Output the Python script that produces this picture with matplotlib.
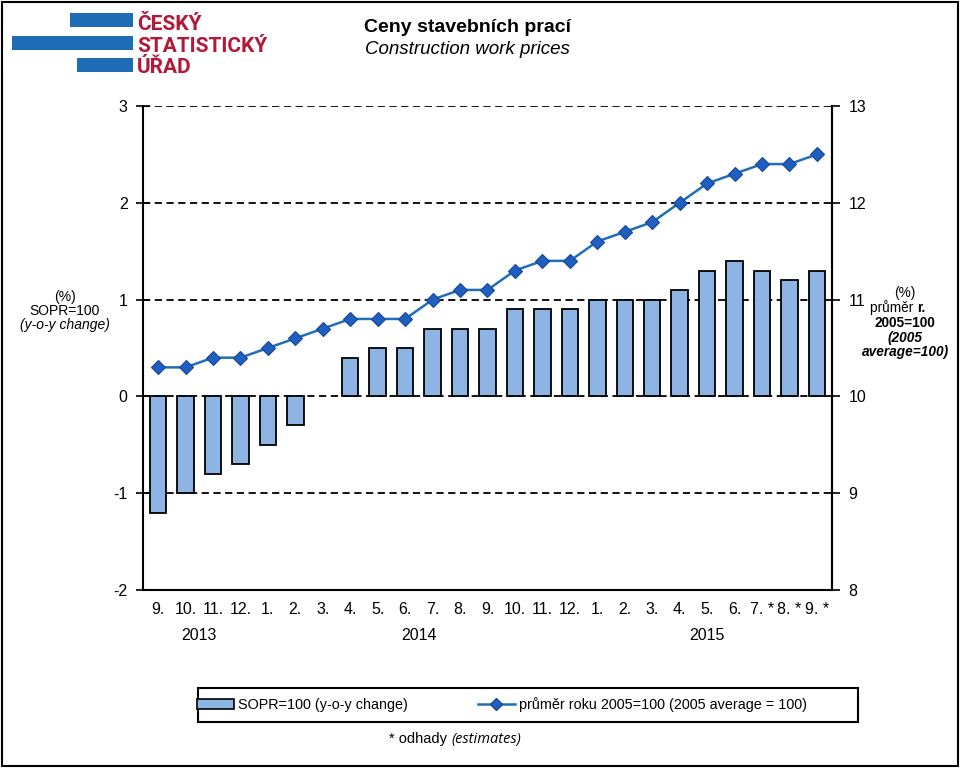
import matplotlib
matplotlib.use("Agg")
import matplotlib.pyplot as plt
import matplotlib.transforms as mtransforms
from matplotlib.patches import Rectangle
from matplotlib.lines import Line2D
from matplotlib.patches import Patch

plt.rcParams['font.family'] = ['Liberation Sans', 'DejaVu Sans']

# ---- data ----
months = ["9.", "10.", "11.", "12.", "1.", "2.", "3.", "4.", "5.", "6.", "7.", "8.",
          "9.", "10.", "11.", "12.", "1.", "2.", "3.", "4.", "5.", "6.", "7. *", "8. *", "9. *"]
years = ["2013", "2014", "2015"]
year_pos = [1.5, 9.5, 20.0]
sopr_yoy = [-1.2, -1.0, -0.8, -0.7, -0.5, -0.3, 0.0, 0.4, 0.5, 0.5, 0.7, 0.7,
            0.7, 0.9, 0.9, 0.9, 1.0, 1.0, 1.0, 1.1, 1.3, 1.4, 1.3, 1.2, 1.3]
avg2005 = [10.3, 10.3, 10.4, 10.4, 10.5, 10.6, 10.7, 10.8, 10.8, 10.8, 11.0, 11.1,
           11.1, 11.3, 11.4, 11.4, 11.6, 11.7, 11.8, 12.0, 12.2, 12.3, 12.4, 12.4, 12.5]
left_ticks = [-2, -1, 0, 1, 2, 3]
right_ticks = [8, 9, 10, 11, 12, 13]

W, H = 960, 770
fig = plt.figure(figsize=(W / 100, H / 100), dpi=100)

def fx(px):
    return px / W

def fy(py):
    return 1 - py / H

# outer frame
fig.patches.append(Rectangle((fx(2), fy(766)), fx(956), (764) / H, transform=fig.transFigure,
                             fill=False, edgecolor='black', linewidth=1.5))

# logo
blue = '#1e6cb6'
red = '#b1183a'
for x0, x1, y0, y1 in [(70, 133, 13, 27), (12, 133, 36, 50), (77, 133, 58, 72)]:
    fig.patches.append(Rectangle((fx(x0), fy(y1)), fx(x1 - x0), (y1 - y0) / H,
                                 transform=fig.transFigure, facecolor=blue, edgecolor='none'))
for txt, yb in [("ČESKÝ", 30), ("STATISTICKÝ", 52), ("ÚŘAD", 73)]:
    fig.text(fx(137), fy(yb), txt, color=red, fontsize=15, fontweight='bold',
             family=['Roboto', 'Liberation Sans'], ha='left', va='baseline')

fig.text(fx(467), fy(27), "Ceny stavebních prací", fontsize=14, fontweight='bold',
         ha='center', va='center')
fig.text(fx(467), fy(50), "Construction work prices", fontsize=13.5, style='italic',
         ha='center', va='center')

# axes
ax = fig.add_axes([fx(143), fy(590), fx(832 - 143), (590 - 106) / H])
x = list(range(len(months)))
bars = ax.bar(x, sopr_yoy, width=0.6, color='#8db4e3', edgecolor='black', linewidth=1.3,
              zorder=2)
for b, v in zip(bars, sopr_yoy):
    if v == 0:
        b.set_linewidth(0)
ax.set_xlim(-0.55, len(months) - 0.45)
ax.set_ylim(-2, 3)
ax.set_yticks(left_ticks)
ax.set_yticklabels([str(t) for t in left_ticks], fontsize=11.5)
for t in left_ticks[1:]:
    ax.axhline(t, color='black', linestyle=(0, (4, 2.5)), linewidth=1.3, zorder=1)
ax.set_xticks(x)
ax.set_xticklabels(months, fontsize=11.5)
ax.tick_params(axis='x', length=0, pad=9)
ax.tick_params(axis='y', direction='inout', length=10, width=1.2, pad=6)
ax.spines['top'].set_visible(False)
for s in ['left', 'bottom', 'right']:
    ax.spines[s].set_linewidth(1.5)

ax2 = ax.twinx()
ax2.plot(x, avg2005, color='#1f6fb8', linewidth=1.8, marker='D', markersize=7,
         markerfacecolor='#1f5fbf', markeredgecolor='#17479a', markeredgewidth=0.8, zorder=3)
ax2.set_ylim(8, 13)
ax2.set_yticks(right_ticks)
ax2.set_yticklabels([str(t) for t in right_ticks], fontsize=11.5)
ax2.tick_params(axis='y', direction='out', length=6, width=1.2, pad=6)
ax2.spines['top'].set_visible(False)
ax2.spines['right'].set_linewidth(1.5)
ax2.spines['left'].set_visible(False)
ax2.spines['bottom'].set_visible(False)

# year labels
trans = mtransforms.blended_transform_factory(ax.transData, fig.transFigure)
for yr, p in zip(years, year_pos):
    ax.text(p, fy(636), yr, transform=trans, fontsize=11.5, ha='center', va='center')

# axis side labels
fig.text(fx(65), fy(297), "(%)", fontsize=10, ha='center', va='center')
fig.text(fx(65), fy(311), "SOPR=100", fontsize=10, ha='center', va='center')
fig.text(fx(65), fy(325), "(y-o-y change)", fontsize=10, style='italic', ha='center', va='center')

fig.text(fx(905), fy(293), "(%)", fontsize=9.8, ha='center', va='center')
fig.text(fx(917), fy(308), "průměr ", fontsize=9.8, ha='right', va='center')
fig.text(fx(917), fy(308), "r.", fontsize=9.8, fontweight='bold', ha='left', va='center')
fig.text(fx(905), fy(323), "2005=100", fontsize=9.8, fontweight='bold', ha='center', va='center')
fig.text(fx(905), fy(338), "(2005", fontsize=9.8, fontweight='bold', style='italic',
         ha='center', va='center')
fig.text(fx(905), fy(352), "average=100)", fontsize=9.8, fontweight='bold', style='italic',
         ha='center', va='center')

# legend box
fig.patches.append(Rectangle((fx(198), fy(722)), fx(858 - 198), (722 - 688) / H,
                             transform=fig.transFigure, fill=False, edgecolor='black',
                             linewidth=1.5))
handles = [Patch(facecolor='#8db4e3', edgecolor='black', linewidth=1.2),
           Line2D([0], [0], color='#1f6fb8', linewidth=1.8, marker='D', markersize=6,
                  markerfacecolor='#1f5fbf', markeredgecolor='#17479a')]
labels = ["SOPR=100 (y-o-y change)", "průměr roku 2005=100 (2005 average = 100)"]
fig.legend(handles, labels, loc='center', bbox_to_anchor=(fx(502), fy(705)), ncol=2,
           frameon=False, fontsize=10.4, handlelength=2.6, handletextpad=0.3,
           columnspacing=4.8)

fig.text(fx(451), fy(739), "* odhady ", fontsize=10.5, ha='right', va='center')
fig.text(fx(451), fy(739), "(estimates)", fontsize=10.5, style='italic',
         family=['Open Sans', 'DejaVu Sans'], ha='left', va='center')

fig.savefig("out.png", dpi=100)
